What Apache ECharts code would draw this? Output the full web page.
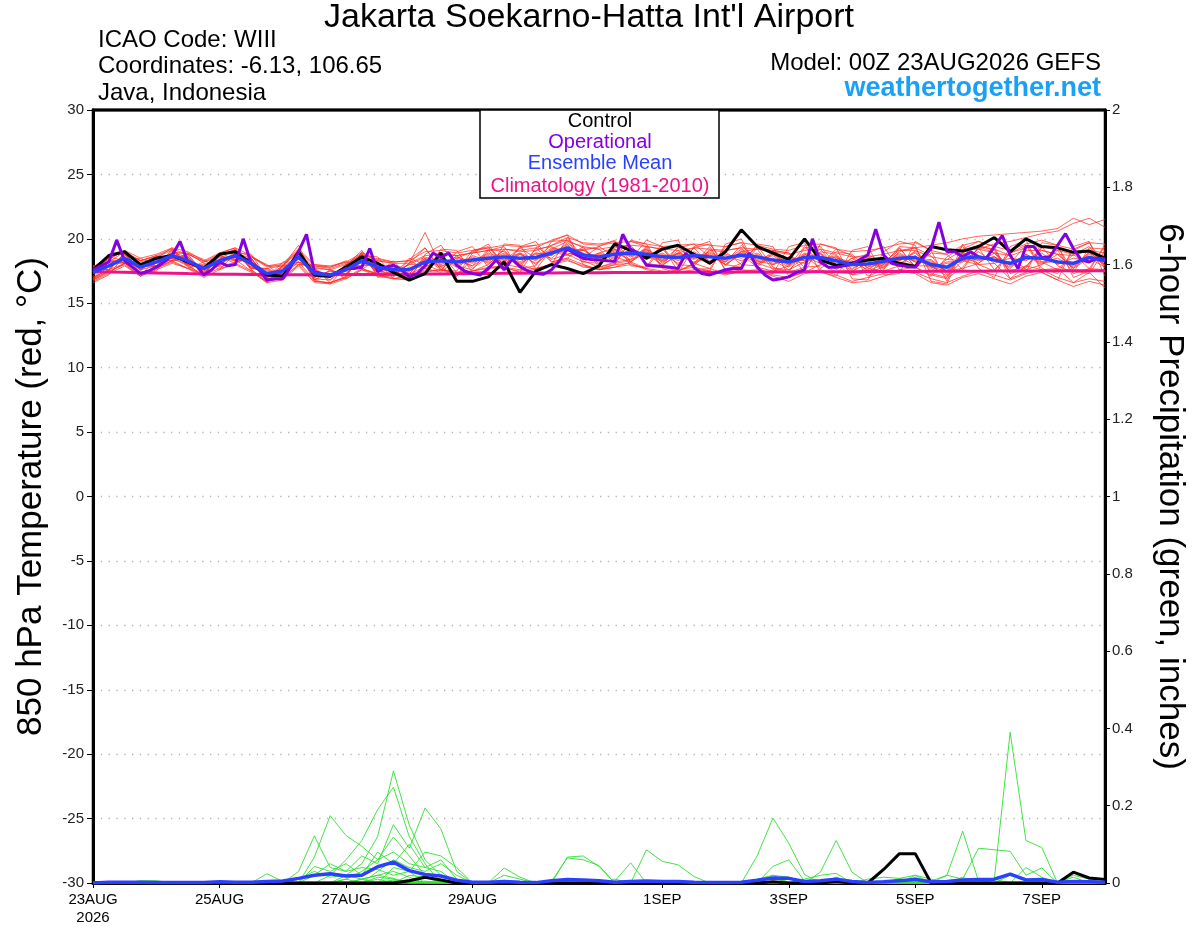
<!DOCTYPE html>
<html>
<head>
<meta charset="utf-8">
<title>Jakarta Soekarno-Hatta GEFS meteogram</title>
<script src="https://cdn.jsdelivr.net/npm/echarts@6/dist/echarts.min.js"></script>
<style>
    html, body { margin: 0; padding: 0; background: #fff; }
    #chart { width: 1200px; height: 927px; }
</style>
</head>
<body>
<div id="chart"></div>
<script>
// forecast steps: ensemble every 6 h (0..384 h), operational every 3 h
const stepEns = 6;
const stepOper = 3;

// x axis ticks (hours since 00Z 23AUG2026)
const tickHours = [0, 48, 96, 144, 216, 264, 312, 360];
const tickLabels = ['23AUG\n2026', '25AUG', '27AUG', '29AUG', '1SEP', '3SEP', '5SEP', '7SEP'];

// 850 hPa temperature (C)
const control = [17.6,18.7,19.0,18.0,18.5,18.7,18.2,17.7, 18.8,19.0,18.1,17.2,17.1,19.0,17.2,17.1, 17.8,18.6,18.1,17.4,16.8,17.3,18.9,16.7, 16.7,17.05,18.2,15.85,17.5,18.0,17.7,17.3, 17.9,19.6,19.1,18.5,19.2,19.5,18.8,18.1, 19.0,20.7,19.4,18.9,18.4,20.0,18.35,17.95, 18.1,18.35,18.5,18.1,17.85,19.4,19.15,19.05, 19.4,20.1,19.0,20.0,19.4,19.3,18.95,19.05, 18.5];
const ensMean = [17.4,17.9,18.5,17.8,18.2,18.7,18.3,17.7, 18.3,18.7,18.1,17.3,17.5,18.6,17.3,17.2, 17.6,18.3,17.8,17.6,17.6,18.2,18.3,18.2, 18.35,18.5,18.6,18.5,18.55,18.9,19.3,18.75, 18.6,18.8,18.9,18.8,18.6,18.55,18.7,18.6, 18.5,18.75,18.6,18.35,18.2,18.55,18.55,18.3, 18.0,18.05,18.25,18.5,18.55,18.0,17.8,18.5, 18.6,18.35,18.1,18.55,18.5,18.2,18.1,18.55, 18.3];
const climatology = [17.45,17.42,17.4,17.37,17.35,17.33,17.3,17.28,17.26, 17.25,17.24,17.23,17.22,17.22,17.22,17.22,17.23,17.23,17.24,17.25,17.26, 17.27,17.28,17.29,17.3,17.31,17.32,17.33,17.34,17.35,17.36,17.37,17.37,17.38,17.38,17.39,17.39,17.4,17.4,17.41,17.41, 17.42,17.42,17.43,17.43,17.44,17.44,17.45,17.45,17.46,17.46,17.47,17.47,17.48,17.48,17.49,17.49,17.5,17.5,17.51,17.51,17.52,17.52,17.53,17.53];
const operational = [17.6,17.9,18.2,19.9,18.3,17.8,17.3,17.5, 17.8,18.2,18.7,19.8,18.2,18.0,17.2,17.6, 18.2,17.9,18.0,20.0,18.1,17.6,16.8,16.9, 16.9,17.8,19.0,20.35,17.45,17.3,17.2,17.3, 17.7,17.7,17.8,19.25,17.45,17.8,17.95,17.6, 17.05,17.3,17.9,18.9,18.55,18.9,17.95,17.5, 17.3,17.2,17.7,18.35,17.6,18.4,17.85,17.5, 17.3,17.25,17.6,18.3,19.25,18.8,18.5,18.4, 18.35,18.3,18.25,20.35,19.2,18.9,17.95,17.9, 17.85,17.8,17.7,18.9,17.8,17.3,17.2,17.4, 17.6,17.7,17.7,18.9,17.8,17.2,16.8,16.9, 17.05,17.4,17.6,20.0,18.2,17.8,17.8,17.9, 18.0,18.4,18.75,20.75,18.75,18.1,17.95,17.85, 17.8,18.5,19.25,21.3,19.0,19.0,18.6,19.0, 18.6,18.5,19.4,20.25,18.75,17.7,19.4,19.4, 18.55,18.6,19.5,20.4,19.25,18.35,18.2,18.5, 18.45];

// 20 GEFS member temperatures (C)
const tempMembers = [
    [16.9,17.5,18.9,17.3,17.7,19.2,17.8,17.2, 18.9,19.3,17.6,16.7,17.0,19.2,16.7,16.6, 17.0,18.9,17.2,17.0,18.4,19.3,17.6,17.1, 18.9,19.6,17.8,17.4,19.3,19.9,20.3,18.0, 17.6,18.0,19.9,19.6,17.7,17.3,19.4,19.8, 17.5,17.7,19.6,19.4,17.1,17.4,19.6,19.3, 16.9,16.8,19.0,19.8,19.5,16.7,16.5,19.2, 19.8,19.4,16.9,17.4,19.7,19.5,17.0,17.5, 19.6],
    [16.8,17.4,18.1,18.3,18.7,18.2,18.8,18.3, 17.8,18.2,18.6,17.9,17.9,18.0,17.9,17.8, 18.3,17.6,17.3,18.3,16.9,17.3,19.2,19.1, 17.4,17.5,19.6,19.5,17.7,18.0,20.1,19.7, 19.6,19.8,17.9,17.8,19.7,19.9,17.6,17.5, 19.6,20.0,17.7,17.3,19.4,19.7,17.4,17.1, 19.1,19.4,17.2,17.3,19.8,19.1,16.7,19.6, 17.7,17.0,19.4,19.9,17.4,16.8,19.4,19.8, 17.1],
    [17.7,18.4,18.1,17.3,17.8,19.1,17.9,17.2, 18.7,18.3,18.5,16.9,17.2,18.2,17.7,17.6, 17.2,18.7,18.6,17.1,18.1,19.3,17.6,17.5, 19.1,19.4,17.9,19.3,19.5,18.4,18.8,19.1, 19.4,19.9,18.2,17.7,19.4,17.9,19.3,19.6, 18.0,17.8,19.3,19.1,18.9,17.4,18.0,19.2, 18.7,17.1,17.6,19.3,17.8,18.9,18.8,17.6, 19.4,19.2,17.4,17.8,19.4,19.1,17.3,17.7, 19.4],
    [17.1,18.2,19.0,18.3,18.6,18.3,18.9,18.1, 17.9,19.1,17.7,17.7,17.9,19.1,16.9,16.8, 18.0,17.9,18.3,18.1,16.8,18.8,19.5,17.9, 17.6,19.1,19.4,17.7,17.9,19.8,19.9,18.3, 17.8,18.1,19.8,19.4,17.9,19.4,18.1,17.7, 19.4,19.7,17.8,17.5,17.9,19.4,18.1,17.4, 17.3,18.9,19.4,17.6,17.8,17.2,16.9,17.8, 19.3,17.6,18.9,19.5,17.7,17.3,19.1,19.7, 17.9],
    [17.9,17.6,18.1,17.1,18.5,19.3,18.0,17.1, 18.9,18.4,17.5,16.6,17.9,19.5,16.8,16.5, 17.9,19.1,17.0,17.2,18.5,18.0,17.5,19.0, 19.4,17.8,17.9,19.4,19.8,18.2,18.5,19.4, 17.8,18.2,18.4,19.9,19.4,17.5,18.1,19.4, 17.6,18.1,19.5,17.8,17.4,19.3,19.4,18.0, 17.2,17.8,18.1,19.3,17.8,17.1,18.6,19.4, 18.0,17.5,18.9,19.3,19.4,17.9,17.4,19.3, 19.2],
    [16.6,17.2,18.7,18.3,17.7,18.3,17.7,18.2, 18.6,18.1,18.6,18.0,17.0,18.0,18.0,17.9, 18.2,17.7,17.3,17.2,17.0,17.6,18.9,18.7, 18.9,19.1,18.0,17.8,19.2,19.4,18.8,18.2, 18.9,19.3,19.5,18.1,17.9,18.9,19.3,18.0, 19.1,19.3,18.1,17.7,17.6,18.2,19.2,17.8, 18.5,17.5,18.0,19.4,19.3,17.3,17.0,18.9, 19.5,19.1,17.3,17.7,19.3,19.4,17.5,17.3, 19.1],
    [17.8,18.6,18.3,18.5,17.9,18.9,18.9,18.4, 17.6,18.9,18.8,17.0,18.2,18.2,17.8,17.6, 16.9,17.6,18.5,18.2,18.3,17.7,17.4,18.4, 17.9,19.2,19.0,18.0,17.6,19.2,19.8,19.4, 19.2,18.1,18.3,19.4,19.2,18.0,17.9,19.1, 19.0,18.0,17.9,19.1,18.9,17.8,17.9,19.0, 18.8,17.7,17.5,17.9,19.1,17.8,17.5,17.7, 18.1,19.2,18.7,17.6,18.0,19.1,18.8,17.7, 17.6],
    [16.8,17.9,18.2,17.3,17.5,19.0,18.8,17.3, 18.7,19.2,17.6,16.8,16.9,19.0,17.7,16.6, 17.1,19.0,18.2,16.9,17.2,17.9,18.8,17.4, 17.5,18.0,19.2,19.1,19.3,18.2,18.5,18.0, 17.6,17.8,18.2,19.2,17.8,17.5,18.0,19.2, 17.9,19.0,19.2,17.6,17.4,17.8,19.0,18.8, 17.2,17.4,17.8,19.0,19.3,18.7,17.2,19.0, 19.4,18.9,17.5,17.9,19.1,18.8,17.7,19.0, 17.9],
    [17.7,17.6,18.9,17.9,17.9,18.4,18.6,17.1, 18.0,18.9,18.5,17.0,17.8,18.2,16.8,17.6, 18.0,18.8,17.2,18.0,17.1,18.4,17.8,18.5, 19.0,19.3,18.3,19.3,18.5,19.5,20.1,18.5, 19.4,18.6,18.2,19.0,18.3,19.3,19.6,18.6, 18.2,19.5,18.3,18.0,18.6,18.3,18.9,17.6, 18.5,18.8,18.1,18.3,19.0,17.5,18.4,18.3, 18.4,18.6,18.1,19.5,18.2,17.6,18.8,19.4, 17.7],
    [16.7,17.3,17.9,17.1,17.6,18.1,17.7,17.0, 17.6,18.1,17.5,16.6,16.8,17.9,16.6,16.5, 16.9,17.6,17.1,16.9,16.8,17.4,17.6,17.3, 17.5,17.7,17.8,17.6,17.7,18.0,18.3,17.9, 17.6,17.8,18.0,17.7,17.5,17.4,17.6,17.7, 17.3,17.6,17.5,17.2,17.0,17.4,17.6,17.2, 16.7,17.0,17.3,17.6,17.4,16.9,16.6,17.1, 17.5,17.2,16.8,17.3,17.6,17.0,16.6,16.9, 16.7],
    [17.8,18.4,19.1,18.5,18.8,19.3,19.0,18.3, 18.9,19.3,18.7,17.9,18.1,19.2,18.0,17.8, 18.2,18.9,18.4,18.2,18.3,19.0,19.1,18.9, 19.1,19.3,19.5,19.4,19.5,19.8,20.3,19.6, 19.5,19.7,19.8,19.6,19.4,19.5,19.6,19.5, 19.4,19.7,19.5,19.2,19.1,19.5,19.6,19.2, 19.0,19.1,19.3,19.6,19.7,19.1,18.8,19.5, 19.8,19.4,19.1,19.6,19.9,19.5,19.2,19.7, 19.6],
    [17.0,17.6,18.8,17.6,17.9,18.9,18.6,17.4, 18.6,18.4,18.4,17.1,17.1,19.0,17.2,17.0, 17.9,18.6,17.6,17.1,18.1,20.5,17.8,17.1, 18.5,18.2,19.1,18.0,18.9,18.7,19.6,18.2, 18.1,19.0,18.7,19.0,18.2,18.9,18.5,18.8, 18.0,19.1,18.2,18.5,17.8,18.8,18.3,18.6, 17.6,18.5,18.0,18.9,18.2,18.2,17.5,18.9, 18.4,18.6,17.7,18.8,18.1,18.3,17.9,18.9, 18.2],
    [17.5,17.4,18.1,17.9,18.4,18.5,17.9,17.9, 17.9,18.9,17.7,17.5,17.3,18.8,16.8,17.3, 17.2,18.5,17.4,18.0,17.6,18.5,17.6,18.7, 17.7,18.6,18.2,18.9,18.0,19.1,18.8,19.2, 18.3,19.2,18.2,19.3,18.1,19.1,18.1,18.6, 18.5,18.8,17.8,18.9,18.0,18.7,17.7,18.5, 18.2,18.2,17.8,18.7,18.3,18.4,17.4,18.6, 18.1,18.9,17.9,18.7,18.0,18.8,17.7,18.5, 17.8],
    [17.3,18.2,18.4,17.6,18.5,18.5,18.0,17.9, 18.0,18.9,17.8,17.6,17.2,18.8,17.0,17.5, 17.3,18.6,17.5,17.9,17.3,18.5,18.0,18.5, 18.1,18.8,18.3,18.8,18.3,19.2,19.0,19.1, 18.3,19.1,18.6,19.1,18.3,18.8,18.4,18.9, 18.2,19.0,18.3,18.7,17.9,18.8,18.3,18.6, 17.7,18.3,17.9,18.8,18.2,18.3,17.5,18.8, 18.3,18.6,17.8,18.8,18.2,18.5,17.8,18.8, 18.0],
    [16.8,17.5,18.0,17.1,17.7,18.2,17.7,17.2, 17.7,18.0,17.4,16.7,16.9,18.0,16.7,16.6, 17.0,17.7,17.2,16.9,17.0,17.5,17.6,17.4, 17.5,17.8,17.7,17.5,17.6,18.1,18.4,17.8, 17.7,18.0,18.1,17.6,17.4,17.6,17.8,17.5, 17.2,17.5,17.6,17.1,16.7,17.3,17.5,17.0, 16.6,16.7,17.1,17.5,17.3,16.6,16.4,17.0, 17.3,16.9,16.5,17.1,17.4,16.8,16.3,16.7, 16.4],
    [17.8,18.5,19.0,18.3,18.7,19.2,18.8,18.2, 18.8,19.1,18.6,17.8,18.0,19.1,17.9,17.7, 18.1,18.8,18.3,18.1,18.1,18.7,18.8,18.7, 18.9,19.1,19.2,19.0,19.1,19.5,19.9,19.3, 19.2,19.4,19.5,19.4,19.2,19.1,19.3,19.2, 19.1,19.3,19.2,19.0,18.8,19.1,19.2,18.9, 18.6,18.6,18.8,19.1,19.1,18.6,18.4,19.1, 19.2,18.9,18.7,19.1,19.1,18.8,18.7,19.1, 18.9],
    [17.0,17.6,18.9,17.5,18.6,19.1,18.1,17.5, 18.7,19.1,17.9,17.1,17.9,19.0,17.1,17.0, 18.0,18.7,17.5,17.3,18.0,18.6,18.1,18.6, 18.2,18.9,18.4,18.9,18.4,19.3,19.1,19.2, 18.4,19.2,18.7,19.2,18.4,18.9,18.5,19.0, 18.3,19.2,18.4,18.8,18.0,18.9,18.4,18.7, 17.9,18.6,18.2,19.1,19.3,19.5,19.7,20.0, 20.2,20.3,20.4,20.5,20.6,20.8,21.6,21.1, 21.5],
    [17.7,18.3,18.2,18.0,17.8,18.3,18.5,17.3, 18.5,18.3,18.3,16.9,17.7,18.2,17.5,16.8, 17.8,17.9,18.0,17.2,17.8,17.8,18.5,17.8, 18.6,18.1,18.8,18.1,18.8,18.5,19.5,18.4, 18.8,18.4,19.1,18.4,18.8,18.1,18.9,18.2, 18.7,18.3,18.8,18.0,18.4,18.1,18.8,17.9, 18.2,17.6,18.4,18.1,18.7,17.7,18.1,18.2, 19.2,19.6,19.8,20.1,20.4,20.6,21.2,21.6, 20.9],
    [16.9,18.2,18.1,18.1,17.9,18.9,18.0,18.0, 18.0,18.8,17.8,17.7,17.2,18.9,17.0,17.5, 17.3,18.5,17.5,17.8,17.3,18.4,17.9,18.3, 17.9,18.7,18.0,18.8,18.1,19.0,18.7,18.9, 18.1,18.9,18.4,18.8,18.0,18.7,18.2,18.7, 18.0,18.8,18.1,18.4,17.6,18.6,18.1,18.4, 17.5,18.1,17.7,18.6,17.9,17.9,17.1,18.3, 18.0,18.1,16.9,17.9,17.6,17.7,16.6,17.4, 16.2],
    [17.9,17.8,18.8,17.6,18.6,18.5,18.7,17.5, 18.7,18.4,18.5,17.0,17.9,18.4,17.7,17.0, 18.0,18.1,18.2,17.4,18.0,18.0,18.6,17.9, 18.7,18.3,18.9,18.2,18.9,18.7,19.7,18.5, 18.9,18.5,19.2,18.5,18.9,18.3,19.0,18.3, 18.8,18.5,18.9,18.1,18.5,18.3,18.9,18.0, 18.3,17.8,18.6,18.3,18.9,17.8,18.2,18.3, 19.0,18.1,18.5,18.3,18.9,18.0,18.5,18.3, 18.6]
];

// 6-hour precipitation (inches)
const precipMean = [0,0.002,0.002,0.002,0.001,0.001,0.001,0.001,0.003,0.002, 0.002,0.004,0.005,0.012,0.02,0.024,0.018,0.02,0.042,0.054, 0.032,0.022,0.018,0.007,0.002,0.002,0.004,0.002,0.001,0.006, 0.009,0.008,0.006,0.002,0.004,0.005,0.004,0.004,0.002,0.001, 0.001,0.002,0.007,0.013,0.012,0.004,0.006,0.01,0.004,0.001, 0.003,0.006,0.009,0.003,0.004,0.008,0.009,0.01,0.023,0.008, 0.009,0.002,0.004,0.003,0.002];
const precipControl = [0,0,0,0,0,0,0,0,0,0, 0,0,0,0,0,0,0,0,0,0, 0.006,0.015,0.008,0,0,0,0,0,0,0, 0,0,0,0,0,0,0,0,0,0, 0,0,0,0.003,0,0,0,0.004,0,0, 0.035,0.076,0.076,0,0,0,0,0,0,0, 0,0,0.028,0.013,0.009];
const precipMembers = [
    [0,0,0,0,0,0,0,0,0,0, 0,0,0,0,0,0,0.02,0.05,0.12,0.29, 0.15,0.06,0.02,0,0,0,0,0,0,0, 0,0,0,0,0,0,0,0,0,0, 0,0,0,0,0,0,0,0,0,0, 0,0,0,0,0.02,0.134,0.005,0,0,0, 0,0,0,0,0],
    [0,0,0,0,0,0,0,0,0,0, 0,0,0,0,0,0.02,0.06,0.11,0.19,0.248, 0.12,0.05,0,0,0,0,0,0,0,0, 0,0,0,0,0,0,0,0,0,0, 0,0,0.07,0.168,0.103,0.022,0,0,0,0, 0,0,0,0,0,0,0,0,0,0, 0,0,0,0,0],
    [0,0,0,0,0,0,0,0,0,0, 0,0,0,0.03,0.122,0.04,0.03,0.07,0.05,0.151, 0.09,0.194,0.14,0.03,0,0,0,0,0,0, 0,0,0,0,0,0,0,0,0,0, 0,0,0,0,0,0,0,0,0,0, 0,0,0,0,0,0,0,0.01,0.39,0.11, 0.092,0,0,0,0],
    [0,0,0,0,0,0,0,0,0,0, 0,0,0,0,0.067,0.174,0.123,0.095,0.06,0.119, 0.07,0.02,0,0,0,0,0,0,0,0, 0.067,0.07,0.043,0,0,0,0,0,0,0, 0,0,0,0,0,0,0,0,0,0, 0,0,0,0,0,0,0,0,0,0, 0,0,0,0,0],
    [0,0,0,0,0,0,0,0,0,0, 0,0,0,0,0.043,0.03,0.05,0.02,0.08,0.05, 0.1,0.04,0.06,0.01,0,0,0,0,0,0.005, 0.065,0.06,0.045,0,0,0.086,0.056,0.047,0.017,0, 0,0,0,0,0,0,0,0,0,0, 0,0,0,0,0,0,0,0,0,0, 0,0,0,0,0],
    [0,0,0,0,0,0,0,0,0,0, 0,0.024,0.004,0,0,0,0,0,0.03,0.06, 0.04,0.03,0.05,0.02,0,0,0,0,0,0, 0,0,0,0,0,0,0,0,0,0, 0,0,0,0,0,0,0.028,0.11,0.028,0, 0,0,0,0,0,0.01,0.09,0.086,0.082,0.02, 0.039,0,0,0,0],
    [0,0,0,0,0,0,0,0,0,0, 0,0,0,0,0.02,0.05,0.03,0.04,0.035,0.02, 0.03,0,0,0,0,0,0.02,0.01,0,0, 0,0,0,0.005,0.052,0,0,0,0,0, 0,0,0,0.043,0.06,0.005,0,0,0,0, 0,0,0,0,0,0,0,0,0,0, 0,0,0,0,0],
    [0,0,0.003,0.003,0,0,0,0,0,0, 0,0,0,0,0,0,0.01,0.03,0.06,0.08, 0.05,0.04,0.03,0,0,0,0.039,0.015,0,0, 0,0,0,0,0,0,0,0,0,0, 0,0,0.01,0.02,0,0,0,0,0,0, 0,0,0,0.005,0.02,0.01,0,0,0,0, 0,0,0,0,0],
    [0,0,0,0,0,0,0,0,0,0, 0,0,0,0,0,0,0,0,0,0.04, 0.03,0.08,0.07,0.04,0,0,0,0,0,0, 0,0,0,0,0,0,0,0,0,0, 0,0,0,0,0,0.01,0.02,0.025,0,0, 0,0,0,0,0,0,0,0,0,0.04, 0.015,0,0,0,0],
    [0,0,0,0,0,0,0,0,0,0, 0,0,0,0.01,0.03,0.015,0.02,0.01,0.02,0.03, 0.015,0,0,0,0,0,0,0,0,0, 0,0,0,0,0,0,0,0,0,0, 0,0,0,0,0,0,0,0,0,0.01, 0.015,0.012,0.02,0.01,0,0,0,0,0,0, 0,0,0.02,0.01,0],
    [0,0,0,0,0,0,0,0,0.004,0, 0,0,0,0,0,0,0,0,0.015,0.01, 0,0,0,0,0,0,0,0,0,0, 0,0,0,0.01,0,0,0,0,0,0, 0,0,0,0,0,0,0,0,0,0, 0,0,0.015,0,0,0,0,0,0,0, 0,0,0,0,0],
    [0,0,0,0.006,0.006,0,0,0,0,0, 0,0,0,0,0,0,0,0.01,0.02,0.012, 0,0,0,0,0,0,0,0,0,0, 0,0,0,0,0,0,0,0,0,0, 0,0,0,0.02,0.015,0,0,0,0,0, 0,0,0,0,0,0,0,0.01,0,0, 0,0,0,0,0],
    [0,0,0,0,0,0,0,0,0,0, 0,0,0,0,0,0,0,0,0,0, 0.02,0.015,0,0,0,0,0,0,0,0, 0,0,0,0,0,0,0,0,0,0, 0,0,0,0,0.01,0,0,0,0,0, 0,0,0,0,0,0,0.01,0,0,0, 0,0,0,0,0],
    [0,0,0,0,0,0,0,0,0,0, 0,0,0,0,0,0,0,0,0,0.008, 0,0,0,0,0,0,0,0,0,0, 0,0,0,0,0,0,0,0,0,0, 0,0,0,0,0,0,0,0,0,0, 0,0.012,0,0,0,0,0,0,0,0, 0,0,0,0,0],
    [0,0,0,0,0,0,0,0,0,0, 0,0,0,0,0,0,0.01,0,0,0, 0,0,0,0,0,0,0,0,0,0, 0,0,0,0,0,0,0,0,0,0, 0,0,0,0,0,0,0,0.015,0,0, 0,0,0,0,0,0,0,0,0,0, 0,0,0.015,0,0],
    [0,0,0,0,0,0,0,0,0,0, 0,0,0,0,0,0,0,0,0.01,0, 0,0,0,0,0,0,0,0,0,0, 0,0,0,0,0,0,0,0,0,0, 0,0,0,0,0,0,0,0,0,0, 0,0,0,0,0,0,0,0,0.02,0.01, 0,0,0,0,0],
    [0,0,0,0,0,0,0,0,0,0, 0,0,0,0,0,0,0,0,0,0.005, 0,0,0,0,0,0,0,0,0,0, 0,0,0,0,0,0,0,0,0,0, 0,0,0,0,0,0,0,0,0,0, 0,0,0.02,0,0,0,0,0,0,0, 0,0,0,0,0],
    [0,0,0,0,0,0,0,0,0,0, 0,0,0,0,0,0,0,0,0,0, 0.01,0,0,0,0,0,0,0,0,0, 0,0,0,0,0,0,0,0,0,0, 0,0,0,0,0.012,0,0,0,0,0, 0,0,0,0,0,0,0,0,0,0, 0,0,0,0,0],
    [0,0,0,0,0,0,0,0,0,0, 0,0,0,0,0,0,0,0,0,0, 0,0.005,0,0,0,0,0,0,0,0, 0,0,0,0,0,0,0,0,0,0, 0,0,0,0,0,0,0,0,0,0, 0,0,0,0,0,0.015,0,0,0,0, 0,0,0,0,0],
    [0,0,0,0,0,0,0,0,0,0, 0,0,0,0,0,0,0,0.01,0,0, 0,0,0,0,0,0,0,0,0,0, 0,0,0,0,0,0,0,0,0,0, 0,0,0,0,0,0,0,0,0,0, 0,0,0,0,0,0,0,0,0,0, 0,0,0,0.006,0]
];

const FONT = '"Liberation Sans", Arial, sans-serif';

// pair each value with its forecast hour
function withHours(values, step) {
    return values.map((v, i) => [i * step, v]);
}

function lineSeries(name, values, step, color, width, yAxisIndex, z) {
    return {
        name: name,
        type: 'line',
        yAxisIndex: yAxisIndex,
        data: withHours(values, step),
        showSymbol: false,
        symbol: 'none',
        silent: true,
        z: z,
        lineStyle: { color: color, width: width }
    };
}

const series = [];
tempMembers.forEach((m, k) => {
    series.push(lineSeries('temp member ' + (k + 1), m, stepEns, 'rgba(255,40,30,0.8)', 0.9, 0, 2));
});
precipMembers.forEach((m, k) => {
    series.push(lineSeries('precip member ' + (k + 1), m, stepEns, '#2fe02f', 0.9, 1, 2));
});
series.push(lineSeries('Climatology (1981-2010)', climatology, stepEns, '#f0128a', 3, 0, 3));
series.push(lineSeries('Control', control, stepEns, '#000000', 3, 0, 4));
series.push(lineSeries('Control precip', precipControl, stepEns, '#000000', 3, 1, 4));
series.push(lineSeries('Operational', operational, stepOper, '#8400e0', 3, 0, 5));
series.push(lineSeries('Ensemble Mean', ensMean, stepEns, '#2b40ff', 3.5, 0, 6));
series.push(lineSeries('Ensemble Mean precip', precipMean, stepEns, '#2b40ff', 3.5, 1, 6));

const chart = echarts.init(document.getElementById('chart'), null, { renderer: 'canvas' });

const option = {
    animation: false,
    backgroundColor: '#ffffff',
    textStyle: { fontFamily: FONT },
    grid: {
        left: 93,
        right: 95,
        top: 110,
        bottom: 44,
        show: true,
        borderColor: '#000',
        borderWidth: 2.5,
        backgroundColor: 'transparent'
    },
    xAxis: {
        type: 'value',
        min: 0,
        max: 384,
        axisLine: { onZero: false, lineStyle: { color: '#000', width: 3 } },
        axisTick: { customValues: tickHours, length: 5, lineStyle: { color: '#000', width: 1 } },
        axisLabel: {
            customValues: tickHours,
            color: '#000',
            fontSize: 15,
            fontFamily: FONT,
            lineHeight: 18,
            margin: 8,
            formatter: v => tickLabels[tickHours.indexOf(v)] || ''
        },
        splitLine: { show: false }
    },
    yAxis: [
        {
            type: 'value',
            min: -30,
            max: 30,
            interval: 5,
            name: '850 hPa Temperature (red, °C)',
            nameLocation: 'middle',
            nameRotate: 90,
            nameGap: 44,
            nameTextStyle: { fontSize: 35, color: '#000', fontFamily: FONT },
            axisLine: { show: true, lineStyle: { color: '#000', width: 3 } },
            axisTick: { show: true, length: 6, lineStyle: { color: '#000', width: 1 } },
            axisLabel: { color: '#222', fontSize: 15, margin: 9, fontFamily: FONT },
            splitLine: { show: true, lineStyle: { color: '#b4b4b4', width: 1.3, type: [1.3, 6.5] } }
        },
        {
            type: 'value',
            min: 0,
            max: 2,
            interval: 0.2,
            position: 'right',
            name: '6-hour Precipitation (green, inches)',
            nameLocation: 'middle',
            nameRotate: -90,
            nameGap: 47,
            nameTextStyle: { fontSize: 35, color: '#000', fontFamily: FONT },
            axisLine: { show: true, lineStyle: { color: '#000', width: 3 } },
            axisTick: { show: true, length: 5, lineStyle: { color: '#000', width: 1 } },
            axisLabel: { color: '#222', fontSize: 15, margin: 7, fontFamily: FONT },
            splitLine: { show: false }
        }
    ],
    series: series,
    graphic: [
        // solid frame top edge (covers the dotted 30 line)
        {
            type: 'line', z: 90,
            shape: { x1: 92, y1: 110, x2: 1106, y2: 110 },
            style: { stroke: '#000', lineWidth: 3 }
        },
        {
            type: 'text', x: 589, y: 18, z: 100,
            style: { text: "Jakarta Soekarno-Hatta Int'l Airport", font: '34px ' + FONT, fill: '#000', align: 'center', verticalAlign: 'middle' }
        },
        { type: 'text', x: 98, y: 40, z: 100, style: { text: 'ICAO Code: WIII', font: '24px ' + FONT, fill: '#000', verticalAlign: 'middle' } },
        { type: 'text', x: 98, y: 66, z: 100, style: { text: 'Coordinates: -6.13, 106.65', font: '24px ' + FONT, fill: '#000', verticalAlign: 'middle' } },
        { type: 'text', x: 98, y: 93, z: 100, style: { text: 'Java, Indonesia', font: '24px ' + FONT, fill: '#000', verticalAlign: 'middle' } },
        { type: 'text', x: 1101, y: 63, z: 100, style: { text: 'Model: 00Z 23AUG2026 GEFS', font: '24px ' + FONT, fill: '#000', align: 'right', verticalAlign: 'middle' } },
        { type: 'text', x: 1101, y: 89, z: 100, style: { text: 'weathertogether.net', font: 'bold 27px ' + FONT, fill: '#1aa0f5', align: 'right', verticalAlign: 'middle' } },
        {
            type: 'rect', z: 100,
            shape: { x: 480, y: 110, width: 239, height: 88 },
            style: { fill: '#fff', stroke: '#000', lineWidth: 1.5 }
        },
        { type: 'text', x: 600, y: 121, z: 101, style: { text: 'Control', font: '20px ' + FONT, fill: '#000', align: 'center', verticalAlign: 'middle' } },
        { type: 'text', x: 600, y: 142, z: 101, style: { text: 'Operational', font: '20px ' + FONT, fill: '#8400e0', align: 'center', verticalAlign: 'middle' } },
        { type: 'text', x: 600, y: 163, z: 101, style: { text: 'Ensemble Mean', font: '20px ' + FONT, fill: '#2b40ff', align: 'center', verticalAlign: 'middle' } },
        { type: 'text', x: 600, y: 186, z: 101, style: { text: 'Climatology (1981-2010)', font: '20px ' + FONT, fill: '#ee1188', align: 'center', verticalAlign: 'middle' } }
    ]
};

chart.setOption(option);

window.addEventListener('resize', () => {
    chart.resize();
});
</script>
</body>
</html>
